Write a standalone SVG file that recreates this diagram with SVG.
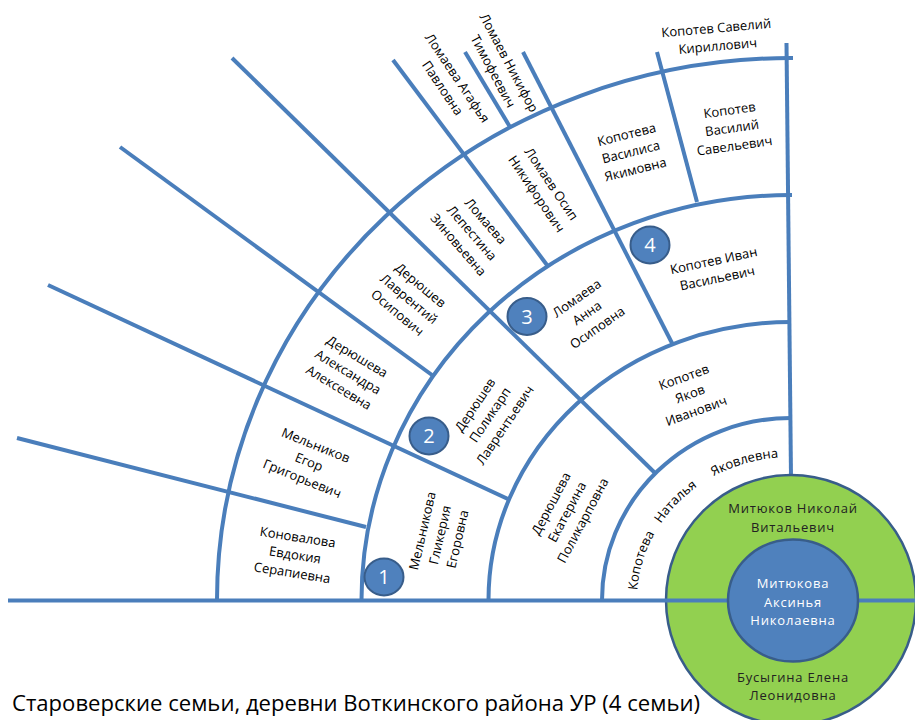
<svg xmlns="http://www.w3.org/2000/svg" width="915" height="720" viewBox="0 0 915 720">
<style>
.ln{stroke:#4A7EBB;stroke-width:4;fill:none}
.lb{font-family:"Open Sans","Noto Sans","Liberation Sans",sans-serif;font-size:13px;fill:#000;text-anchor:middle}
.cw{font-family:"Open Sans","Noto Sans","Liberation Sans",sans-serif;font-size:13px;text-anchor:middle;letter-spacing:0.8px}
.num{fill:#4F81BD;stroke:#385D8A;stroke-width:2}
.nt{font-family:"Open Sans","Noto Sans","Liberation Sans",sans-serif;font-size:20px;fill:#fff;text-anchor:middle}
</style>
<defs>
<path id="natArc" d="M 637,600 A 154,143 0 0 1 791,457"/>
</defs>
<rect width="915" height="720" fill="#fff"/>
<g id="connectors">
<path class="ln" d="M 602,600 A 189,182 0 0 1 791,418"/>
<path class="ln" d="M 488.5,600 A 302.5,278 0 0 1 791,322"/>
<path class="ln" d="M 361.5,600 A 429.5,405 0 0 1 792,195"/>
<path class="ln" d="M 217,600 A 574,542 0 0 1 793,58"/>
<path class="ln" d="M 791,477 L 786.5,43"/>
<path class="ln" d="M 655,473 L 232,58"/>
<path class="ln" d="M 673,345 L 523,52"/>
<path class="ln" d="M 510,500 L 48,285"/>
<path class="ln" d="M 697,202 L 657,52"/>
<path class="ln" d="M 547,265 L 393,60"/>
<path class="ln" d="M 432,375 L 120,147"/>
<path class="ln" d="M 366,527 L 17,438"/>
<path class="ln" d="M 510,127 L 465,52"/>
</g>
<g id="parents">
<circle cx="791" cy="600" r="125" fill="#92D050" stroke="#385D8A" stroke-width="2.5"/>
<path class="ln" d="M 8,600.5 L 915,600.5"/>
<text class="cw" fill="#222" x="793" y="513">Митюков Николай</text>
<text class="cw" fill="#222" x="793" y="532">Витальевич</text>
<text class="cw" fill="#222" x="793" y="682">Бусыгина Елена</text>
<text class="cw" fill="#222" x="793" y="700">Леонидовна</text>
</g>
<g id="center">
<ellipse cx="793" cy="600.5" rx="65" ry="61" fill="#4F81BD" stroke="#385D8A" stroke-width="2.5"/>
<text class="cw" fill="#fff" x="793" y="588">Митюкова</text>
<text class="cw" fill="#fff" x="793" y="607">Аксинья</text>
<text class="cw" fill="#fff" x="793" y="625">Николаевна</text>
</g>
<g id="natalya">
<text class="lb"><textPath href="#natArc" startOffset="17%">Копотева</textPath></text>
<text class="lb"><textPath href="#natArc" startOffset="46%">Наталья</textPath></text>
<text class="lb"><textPath href="#natArc" startOffset="80%">Яковлевна</textPath></text>
</g>
<g id="yakov" transform="translate(690,394) rotate(-20)">
<text class="lb" y="-13.5">Копотев</text><text class="lb" y="4.5">Яков</text><text class="lb" y="22.5">Иванович</text>
</g>
<g id="ekaterina" transform="translate(567,512) rotate(-62)">
<text class="lb" y="-13.5">Дерюшева</text><text class="lb" y="4.5">Екатерина</text><text class="lb" y="22.5">Поликарповна</text>
</g>
<g id="ivan" transform="translate(715.5,269.5) rotate(-12)">
<text class="lb" y="-4.5">Копотев Иван</text><text class="lb" y="13.5">Васильевич</text>
</g>
<g id="anna" transform="translate(587,313) rotate(-35)">
<text class="lb" y="-13.5">Ломаева</text><text class="lb" y="4.5">Анна</text><text class="lb" y="22.5">Осиповна</text>
</g>
<g id="polikarp" transform="translate(490,415) rotate(-56)">
<text class="lb" y="-13.5">Дерюшев</text><text class="lb" y="4.5">Поликарп</text><text class="lb" y="22.5">Лаврентьевич</text>
</g>
<g id="glikeriya" transform="translate(440,535) rotate(-77)">
<text class="lb" y="-13.5">Мельникова</text><text class="lb" y="4.5">Гликерия</text><text class="lb" y="22.5">Егоровна</text>
</g>
<g id="vasiliy" transform="translate(732,128) rotate(-8)">
<text class="lb" y="-13.5">Копотев</text><text class="lb" y="4.5">Василий</text><text class="lb" y="22.5">Савельевич</text>
</g>
<g id="vasilisa" transform="translate(631,152) rotate(-14)">
<text class="lb" y="-13.5">Копотева</text><text class="lb" y="4.5">Василиса</text><text class="lb" y="22.5">Якимовна</text>
</g>
<g id="osip" transform="translate(544,189) rotate(56)">
<text class="lb" y="-4.5">Ломаев Осип</text><text class="lb" y="13.5">Никифорович</text>
</g>
<g id="lepestina" transform="translate(472,233) rotate(49)">
<text class="lb" y="-13.5">Ломаева</text><text class="lb" y="4.5">Лепестина</text><text class="lb" y="22.5">Зиновьевна</text>
</g>
<g id="lavrentiy" transform="translate(409,299) rotate(40)">
<text class="lb" y="-13.5">Дерюшев</text><text class="lb" y="4.5">Лаврентий</text><text class="lb" y="22.5">Осипович</text>
</g>
<g id="aleksandra" transform="translate(348,372) rotate(31)">
<text class="lb" y="-13.5">Дерюшева</text><text class="lb" y="4.5">Александра</text><text class="lb" y="22.5">Алексеевна</text>
</g>
<g id="egor" transform="translate(309,462) rotate(22)">
<text class="lb" y="-13.5">Мельников</text><text class="lb" y="4.5">Егор</text><text class="lb" y="22.5">Григорьевич</text>
</g>
<g id="evdokiya" transform="translate(295,555) rotate(9)">
<text class="lb" y="-13.5">Коновалова</text><text class="lb" y="4.5">Евдокия</text><text class="lb" y="22.5">Серапиевна</text>
</g>
<g id="saveliy" transform="translate(717,37) rotate(-5)">
<text class="lb" y="-4.5">Копотев Савелий</text><text class="lb" y="13.5">Кириллович</text>
</g>
<g id="nikifor" transform="translate(501,67) rotate(62)">
<text class="lb" y="-4.5">Ломаев Никифор</text><text class="lb" y="13.5">Тимофеевич</text>
</g>
<g id="agafya" transform="translate(450,83) rotate(56)">
<text class="lb" y="-4.5">Ломаева Агафья</text><text class="lb" y="13.5">Павловна</text>
</g>
<g id="badge1"><ellipse class="num" cx="384" cy="577" rx="19.5" ry="18.5"/><text class="nt" x="384" y="584">1</text></g>
<g id="badge2"><ellipse class="num" cx="429" cy="436" rx="19.5" ry="18.5"/><text class="nt" x="429" y="443">2</text></g>
<g id="badge3"><ellipse class="num" cx="527" cy="316.5" rx="19.5" ry="18.5"/><text class="nt" x="527" y="323.5">3</text></g>
<g id="badge4"><ellipse class="num" cx="650" cy="245" rx="19.5" ry="18.5"/><text class="nt" x="650" y="252">4</text></g>
<g id="title">
<text x="12" y="711" font-family="'Open Sans','Noto Sans','Liberation Sans',sans-serif" font-size="21" fill="#000" textLength="688" lengthAdjust="spacingAndGlyphs">Староверские семьи, деревни Воткинского района УР (4 семьи)</text>
</g>
</svg>
